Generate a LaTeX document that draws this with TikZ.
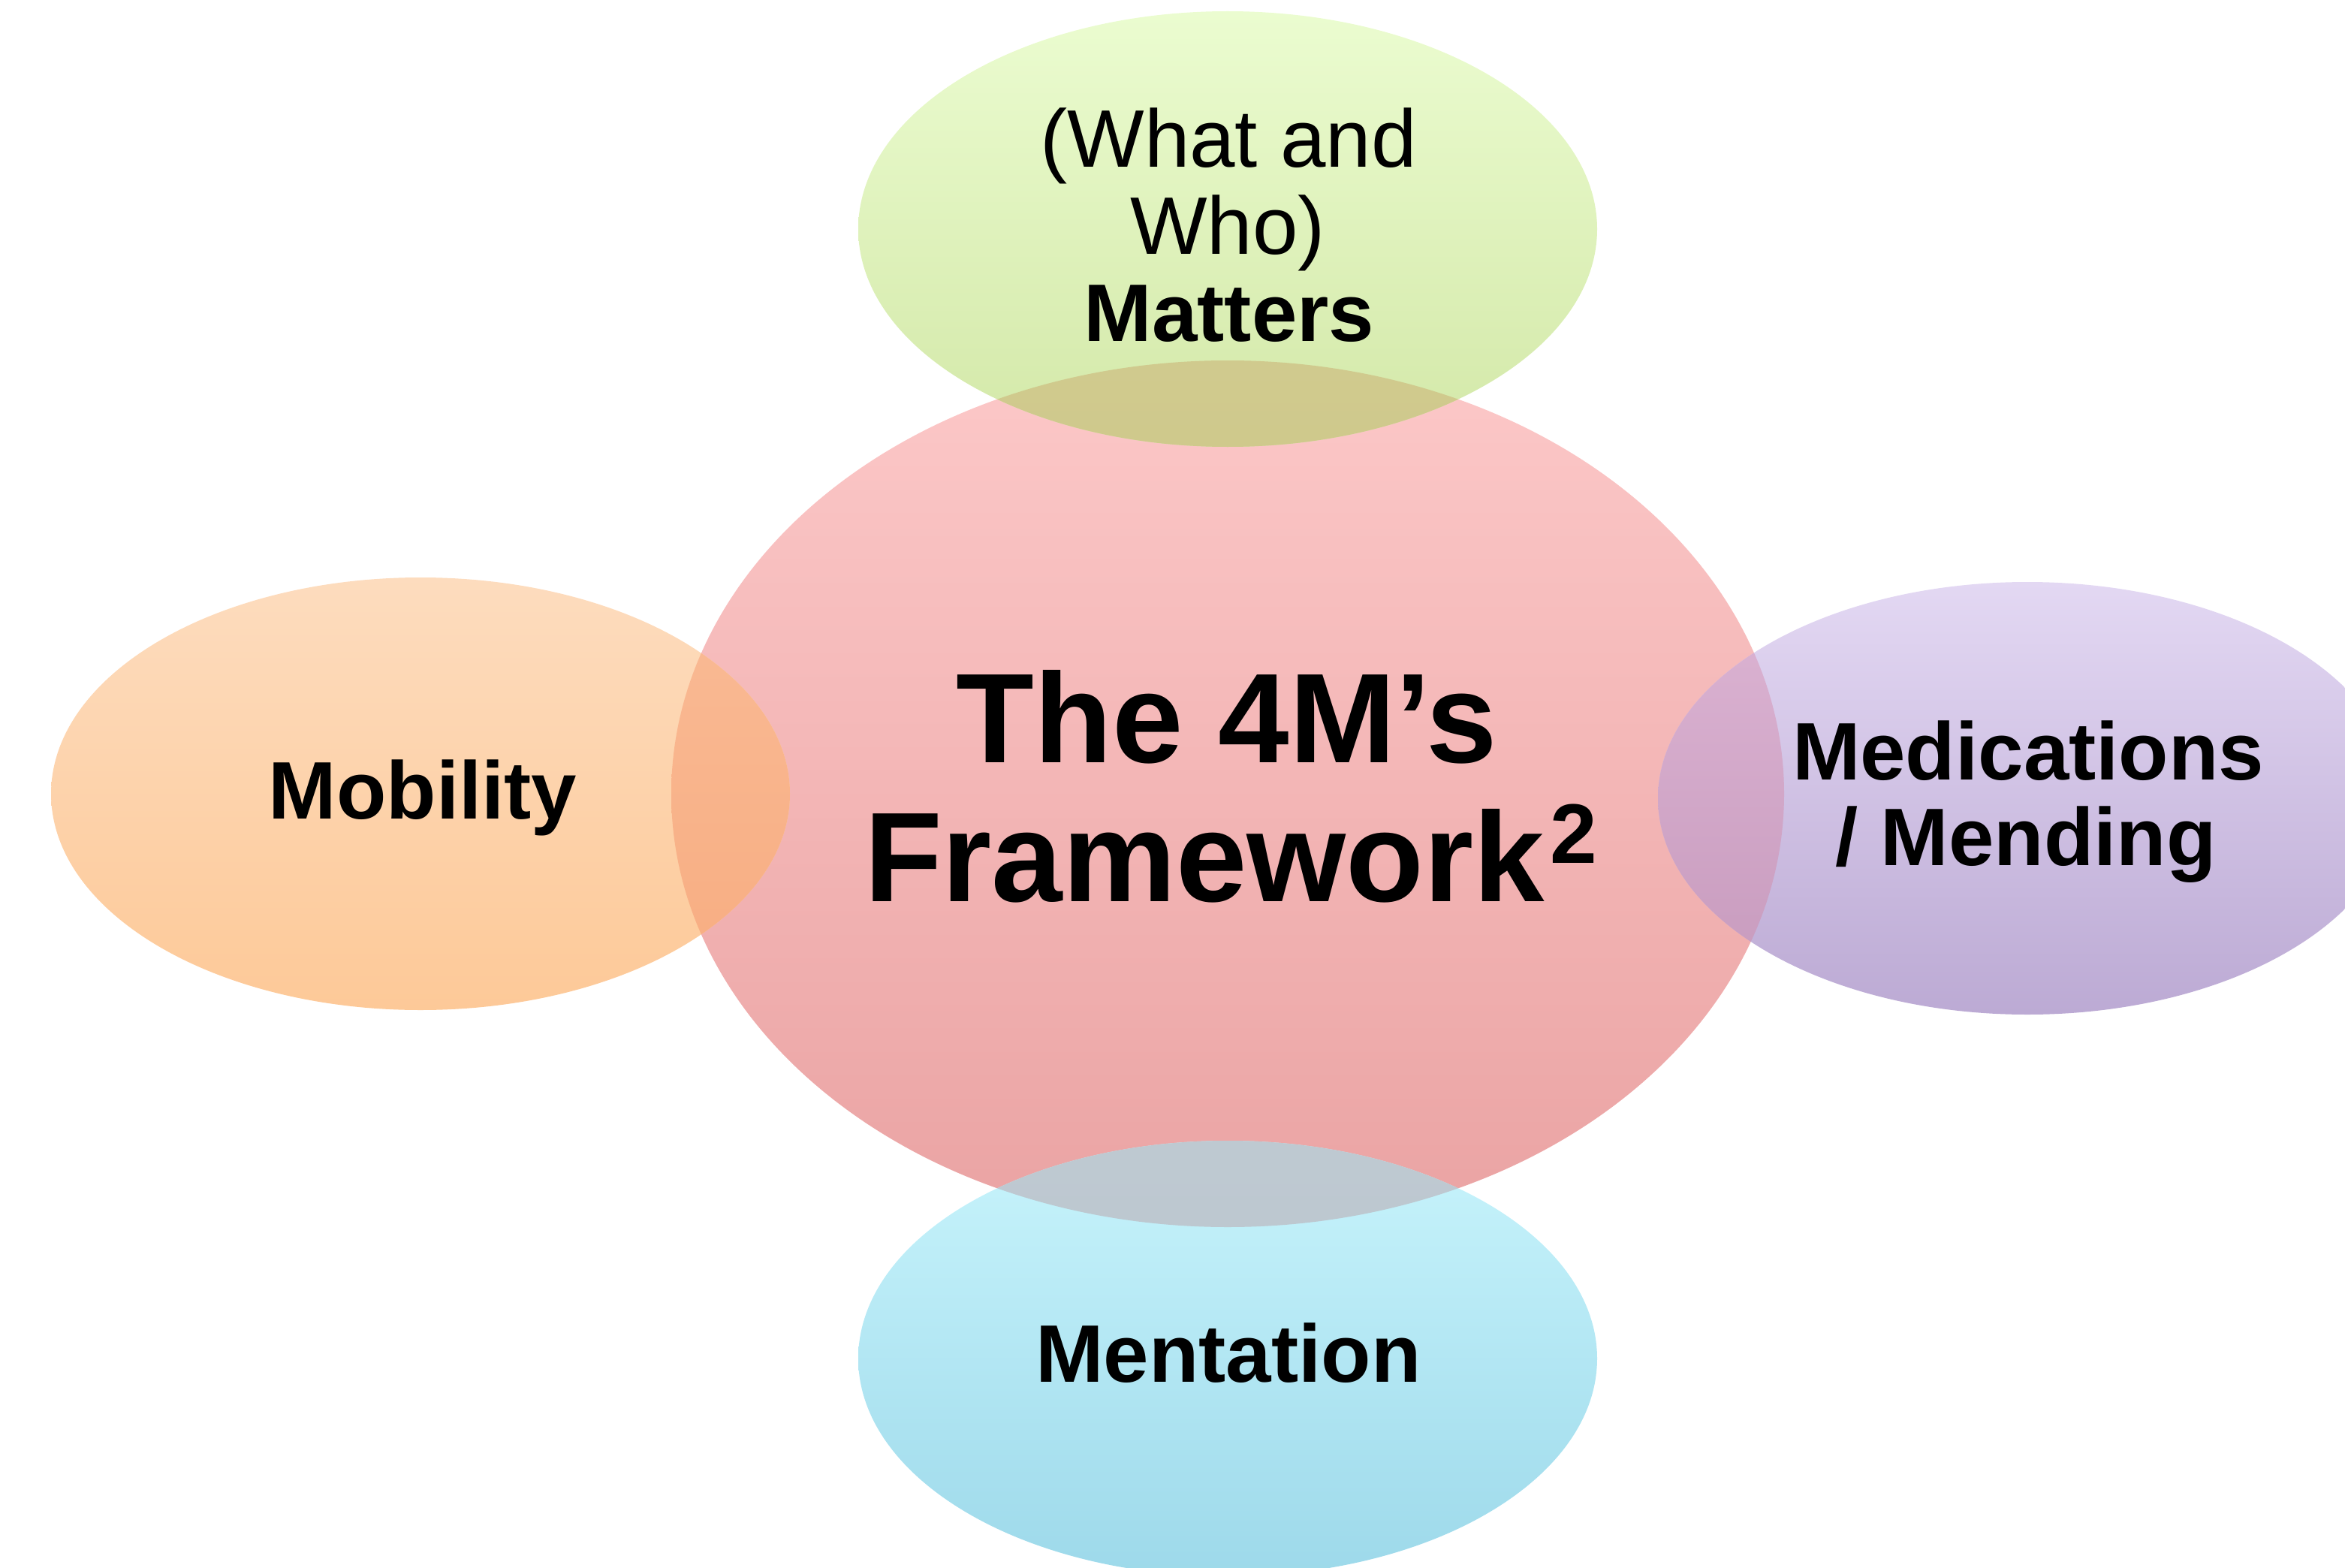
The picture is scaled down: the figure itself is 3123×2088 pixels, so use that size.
\documentclass[tikz,border=0pt]{standalone}
\usepackage{fontspec}
\setmainfont{Liberation Sans}
\begin{document}
\begin{tikzpicture}[x=0.01cm,y=-0.01cm,
  lbl/.style={anchor=base,inner sep=0pt,font=\fontsize{30.9}{33}\selectfont\bfseries},
  lblreg/.style={anchor=base,inner sep=0pt,font=\fontsize{30.9}{33}\selectfont},
  ttl/.style={anchor=base,inner sep=0pt,font=\fontsize{48.3}{52}\selectfont\bfseries}]
\definecolor{bigT}{HTML}{FCC8C8}\definecolor{bigB}{HTML}{EAA3A3}
\definecolor{grT}{HTML}{EBFCD0}\definecolor{grB}{HTML}{D3E8A8}
\definecolor{orT}{HTML}{FDDCBE}\definecolor{orB}{HTML}{FDC998}
\definecolor{puT}{HTML}{E3D8F3}\definecolor{puB}{HTML}{BCAAD4}
\definecolor{cyT}{HTML}{C8F4FC}\definecolor{cyB}{HTML}{9DD9EA}
\definecolor{ogT}{HTML}{D5CE96}\definecolor{ogB}{HTML}{CFC98C}
\definecolor{ocT}{HTML}{BEC9D1}\definecolor{ocB}{HTML}{BAC4CD}
\definecolor{ooT}{HTML}{F9BB96}\definecolor{ooB}{HTML}{F8AC80}
\definecolor{opT}{HTML}{DDB5D4}\definecolor{opB}{HTML}{C699BC}
\useasboundingbox (0,0) rectangle (3123,2088);
\clip (0,0) rectangle (3123,2088);
% main ellipses
\shade[top color=bigT,bottom color=bigB] (1635,1057) ellipse [x radius=741,y radius=577];
\shade[top color=grT,bottom color=grB] (1635,305) ellipse [x radius=492,y radius=290];
\shade[top color=orT,bottom color=orB] (560,1057) ellipse [x radius=492,y radius=288];
\shade[top color=puT,bottom color=puB] (2700,1063) ellipse [x radius=492,y radius=288];
\shade[top color=cyT,bottom color=cyB] (1635,1809) ellipse [x radius=492,y radius=290];
% overlaps
\begin{scope}
  \clip (1635,1057) ellipse [x radius=741,y radius=577];
  \shade[top color=ogT,bottom color=ogB] (1635,305) ellipse [x radius=492,y radius=290];
  \shade[top color=ooT,bottom color=ooB] (560,1057) ellipse [x radius=492,y radius=288];
  \shade[top color=opT,bottom color=opB] (2700,1063) ellipse [x radius=492,y radius=288];
  \shade[top color=ocT,bottom color=ocB] (1635,1809) ellipse [x radius=492,y radius=290];
\end{scope}
% texts
\node[lblreg] (wq1) at (1636,223) {(What and};
\node[lblreg] (wq2) at (1635,338) {Who)};
\node[lbl] (matters) at (1637,455) {Matters};
\node[ttl] (t1) at (1634,1015) {The 4M’s};
\node[ttl] (t2) at (1639,1200) {Framework\kern2pt\raisebox{14.5pt}{\fontsize{32}{32}\selectfont 2}};
\node[lbl] (mob) at (563,1090) {Mobility};
\node[lbl] (med1) at (2701,1038) {Medications};
\node[lbl] (med2) at (2698,1152) {/ Mending};
\node[lbl] (ment) at (1636,1840) {Mentation};
\end{tikzpicture}
\end{document}
